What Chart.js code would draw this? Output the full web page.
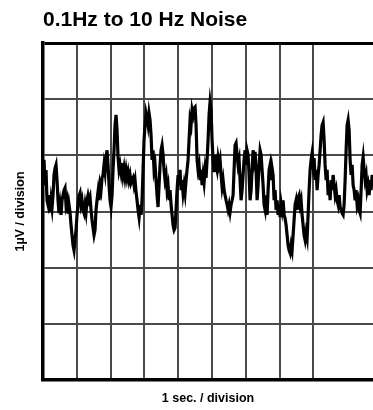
<!DOCTYPE html>
<html>
<head>
<meta charset="utf-8">
<script src="https://cdn.jsdelivr.net/npm/chart.js@4/dist/chart.umd.min.js"></script>
<style>
html,body{margin:0;padding:0;background:#fff;overflow:hidden;}
#wrap{width:373px;height:410px;position:relative;}
</style>
</head>
<body>
<div id="wrap"><canvas id="c"></canvas></div>
<script>
// Chart texts
const titleText = "0.1Hz to 10 Hz Noise";
const xTitle = "1 sec. / division";
const yTitle = "1µV / division";

// Axis ranges (divisions)
const xRange = [0, 9.76];   // seconds (right side of plot is cut off)
const yRange = [0, 6];      // µV (1 µV per division)

// Noise trace: evenly sampled (start time, samples per second), values in µV
const traceStart = 0.03;
const samplesPerSecond = 33.8;
const noiseValues = [
3.92,3.47,3.74,3.20,3.12,3.29,2.99,3.20,3.06,3.29,3.65,3.77,3.83,3.56,3.20,2.97,3.12,2.94,3.20,3.29,
3.38,3.42,3.12,3.20,2.96,3.12,2.99,2.76,2.58,2.40,2.31,2.49,2.67,2.94,3.12,3.28,3.33,3.12,3.20,3.03,
2.97,3.12,2.99,3.20,3.29,3.20,3.26,3.03,2.85,2.71,2.58,2.67,3.03,3.20,3.35,3.20,3.47,3.38,3.60,3.65,
3.83,3.70,3.95,4.09,3.83,3.47,3.20,3.08,3.29,3.74,4.09,4.54,4.72,4.45,3.97,3.74,3.83,3.70,3.86,3.65,
3.77,3.61,3.74,3.60,3.70,3.56,3.65,3.51,3.56,3.60,3.47,3.56,3.35,3.20,3.03,2.90,3.12,2.94,3.20,3.74,
4.27,4.54,4.75,4.66,4.54,4.75,4.63,4.36,3.92,4.09,3.74,3.83,3.56,3.29,3.08,3.47,3.83,4.09,4.18,4.01,
3.74,3.56,3.65,3.38,3.47,3.20,3.38,3.12,2.94,2.76,2.67,2.71,3.03,3.38,3.65,3.47,3.74,3.38,3.56,3.33,
3.47,3.33,3.56,3.74,3.92,4.27,4.63,4.54,4.81,4.72,4.84,4.86,4.54,3.92,3.74,3.83,3.56,3.74,3.47,3.65,
3.51,3.74,3.60,3.92,4.27,4.72,4.95,4.81,4.27,3.92,3.70,4.01,3.83,3.74,3.95,3.83,3.92,3.65,3.44,3.56,
3.38,3.29,3.20,3.12,3.03,3.12,2.99,3.12,3.20,3.29,3.74,4.18,4.22,4.01,3.83,3.92,3.56,3.20,3.38,3.65,
3.92,4.09,3.83,4.09,4.01,3.65,3.20,3.38,3.74,4.09,3.92,4.06,3.74,3.20,3.47,3.83,4.09,4.01,3.74,3.47,
3.12,3.03,3.29,2.94,3.38,3.74,3.83,3.56,3.77,3.65,3.20,3.38,3.03,3.20,2.94,3.12,2.90,3.15,3.03,3.20,
2.94,2.88,2.76,2.58,2.40,2.31,2.26,2.40,2.31,2.58,2.85,3.12,3.20,3.03,3.24,3.29,3.12,3.20,2.94,2.76,
2.58,2.49,2.63,2.53,2.94,3.38,3.74,3.92,4.04,3.83,3.95,3.56,3.74,3.38,3.65,3.83,4.09,4.36,4.54,4.59,
4.27,3.83,3.56,3.74,3.29,3.47,3.20,3.56,3.38,3.65,3.47,3.29,3.38,3.20,3.12,3.29,3.08,3.03,2.97,2.94,
3.12,3.56,4.09,4.54,4.63,4.45,3.92,3.65,3.83,3.47,3.38,3.20,3.38,3.12,3.20,3.03,2.97,3.38,3.83,3.97,
3.74,3.56,3.65,3.38,3.47,3.29,3.56,3.38,3.65,3.47
];

const points = noiseValues.map((v, i) => ({ x: traceStart + i / samplesPerSecond, y: v }));

const FONT = "'Liberation Sans', Arial, Helvetica, sans-serif";

new Chart(document.getElementById('c'), {
  type: 'line',
  data: {
    datasets: [{
      data: points,
      borderColor: '#000',
      borderWidth: 3.2,
      pointRadius: 0,
      tension: 0,
      fill: false
    }]
  },
  options: {
    responsive: true,
    maintainAspectRatio: false,
    animation: false,
    events: [],
    layout: { padding: 0 },
    plugins: {
      legend: { display: false },
      tooltip: { enabled: false },
      title: {
        display: true,
        text: titleText,
        align: 'start',
        fullSize: false,
        color: '#000',
        font: { family: FONT, size: 21, weight: 'bold', lineHeight: 1.2 },
        padding: { top: 8, bottom: 9.8 }
      }
    },
    scales: {
      x: {
        type: 'linear',
        min: xRange[0],
        max: xRange[1],
        afterBuildTicks: (s) => { s.ticks = s.ticks.filter(t => Math.abs(t.value - Math.round(t.value)) < 1e-6 && t.value <= 9); },
        afterFit: (s) => { s.height = 30; },
        ticks: { display: false, stepSize: 1 },
        grid: { drawTicks: false, color: '#4a4a4a', lineWidth: 2 },
        border: { display: true, color: '#000', width: 3.5 },
        title: {
          display: true,
          text: xTitle,
          color: '#000',
          font: { family: FONT, size: 12.5, weight: 'bold', lineHeight: 1.2 },
          padding: { top: 0, bottom: 3.5 }
        }
      },
      y: {
        type: 'linear',
        min: yRange[0],
        max: yRange[1],
        afterFit: (s) => { s.width = 43; },
        ticks: { display: false, stepSize: 1 },
        grid: {
          drawTicks: false,
          color: (ctx) => ctx.tick && ctx.tick.value === 6 ? '#000' : '#4a4a4a',
          lineWidth: (ctx) => ctx.tick && ctx.tick.value === 6 ? 3 : 2
        },
        border: { display: true, color: '#000', width: 3.5 },
        title: {
          display: true,
          text: yTitle,
          color: '#000',
          font: { family: FONT, size: 12.5, weight: 'bold', lineHeight: 1.2 },
          padding: { top: 13, bottom: 0 }
        }
      }
    }
  }
});
</script>
</body>
</html>
